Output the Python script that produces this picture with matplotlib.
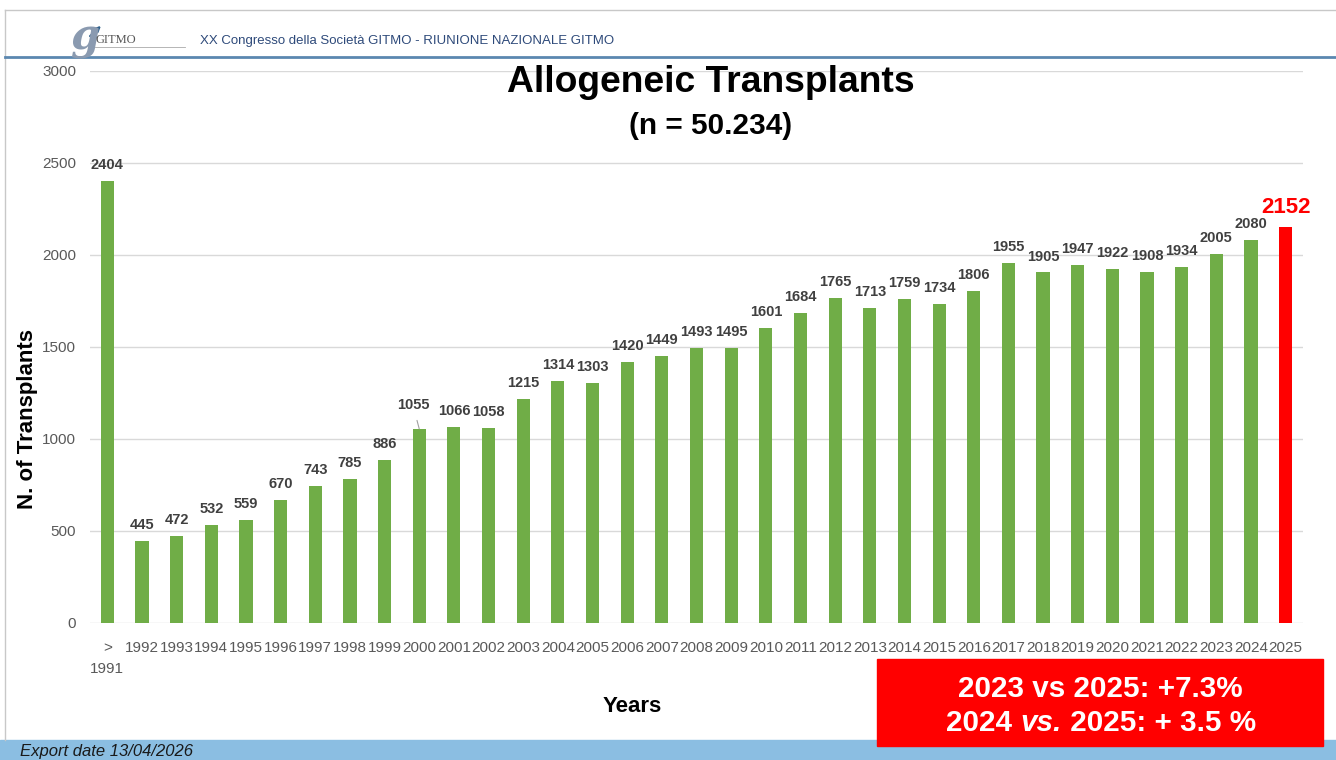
import matplotlib.pyplot as plt
from matplotlib.patches import Rectangle, FancyArrowPatch
from matplotlib.lines import Line2D

plt.rc('font', family=['Liberation Sans', 'DejaVu Sans'])

# data
years = ['>\n1991'] + [str(y) for y in range(1992, 2026)]
transplants = [2404, 445, 472, 532, 559, 670, 743, 785, 886, 1055,
               1066, 1058, 1215, 1314, 1303, 1420, 1449, 1493, 1495, 1601,
               1684, 1765, 1713, 1759, 1734, 1806, 1955, 1905, 1947, 1922,
               1908, 1934, 2005, 2080, 2152]
yticks = [0, 500, 1000, 1500, 2000, 2500, 3000]

green = '#70AD47'
red = '#FF0000'
grey_txt = '#595959'
dark_txt = '#404040'

fig = plt.figure(figsize=(13.36, 7.6), dpi=100)

# slide frame
fig.add_artist(Line2D([5/1336, 1], [1-10/760, 1-10/760], color='#C8C8C8', lw=1))
fig.add_artist(Line2D([5/1336, 5/1336], [1-10/760, 20/760], color='#C8C8C8', lw=1))
fig.add_artist(Line2D([5/1336, 1], [1-57/760, 1-57/760], color='#5B87B0', lw=2))
fig.add_artist(Rectangle((0, 0), 1, 20/760, transform=fig.transFigure, color='#8BBEE2', zorder=0))
fig.text(20/1336, 1/760, 'Export date 13/04/2026', fontsize=12, style='italic',
         color='#1a1a1a', ha='left', va='bottom')

# header
fig.text(70/1336, 1-38/760, 'g', fontsize=30, style='italic', fontweight='bold', color='#8A9AB0',
         ha='left', va='center', family='DejaVu Serif')
fig.add_artist(FancyArrowPatch((88/1336, 1-38/760), (103/1336, 1-24/760), transform=fig.transFigure,
                               arrowstyle='-|>', color='#2E5F8A', lw=1.5, mutation_scale=8))
fig.text(96/1336, 1-40/760, 'GITMO', fontsize=9, color='#555555',
         ha='left', va='center', family='Liberation Serif')
fig.add_artist(Line2D([95/1336, 185/1336], [1-47/760, 1-47/760], color='#AAAAAA', lw=0.6))
fig.text(200/1336, 1-41/760, 'XX Congresso della Società GITMO - RIUNIONE NAZIONALE GITMO',
         fontsize=9.5, color='#2E4A7A', ha='left', va='center')

ax = fig.add_axes([90/1336, 1-623/760, (1303-90)/1336, (623-71)/760])
x = list(range(len(years)))
colors = [green]*(len(years)-1) + [red]
ax.bar(x, transplants, width=0.38, color=colors, zorder=3)

ax.set_xlim(-0.5, len(years)-0.5)
ax.set_ylim(0, 3000)
ax.set_yticks(yticks)
ax.set_xticks(x)
ax.set_xticklabels(years, fontsize=11, color=grey_txt, va='top', linespacing=1.6)
ax.tick_params(axis='y', labelsize=11, labelcolor=grey_txt, length=0, pad=10)
ax.tick_params(axis='x', length=0, pad=13)
ax.grid(axis='y', color='#D9D9D9', lw=1, zorder=0)
for s in ax.spines.values():
    s.set_visible(False)

# value labels
for i, v in enumerate(transplants):
    if i == len(transplants)-1:
        ax.annotate(str(v), (i, v), xytext=(0, 14), textcoords='offset points',
                    ha='center', va='center', fontsize=16, fontweight='bold', color=red)
    elif years[i] == '2000':
        ax.annotate(str(v), (i, v), xytext=(-4.5, 17), textcoords='offset points',
                    ha='center', va='center', fontsize=10.5, fontweight='bold', color=dark_txt,
                    arrowprops=dict(arrowstyle='-', color='#A0A0A0', lw=0.8, shrinkA=4, shrinkB=0))
    else:
        ax.annotate(str(v), (i, v), xytext=(0, 11.5), textcoords='offset points',
                    ha='center', va='center', fontsize=10.5, fontweight='bold', color=dark_txt)

fig.text(28/1336, 1-419/760, 'N. of Transplants', fontsize=16, fontweight='bold',
         rotation=90, ha='center', va='center')
fig.text(632/1336, 1-706/760, 'Years', fontsize=16, fontweight='bold', ha='center', va='center')

fig.text(711/1336, 1-83/760, 'Allogeneic Transplants', fontsize=26.8, fontweight='bold',
         ha='center', va='center')
fig.text(711/1336, 1-126/760, '(n = 50.234)', fontsize=21.4, fontweight='bold',
         ha='center', va='center')

# red comparison box
fig.add_artist(Rectangle((877/1336, 1-746/760), (1323-877)/1336, (746-659)/760,
                         transform=fig.transFigure, color=red, zorder=5))
fig.text(1100/1336, 1-689/760, '2023 vs 2025: +7.3%', fontsize=21.3, fontweight='bold',
         color='white', ha='center', va='center', zorder=6)
box_kw = dict(fontsize=21.3, fontweight='bold', color='white', va='baseline', zorder=6)
t1 = fig.text(946/1336, 1-731/760, '2024 ', ha='left', **box_kw)
t2 = fig.text(0, 0, 'vs.', style='italic', ha='left', **box_kw)
t3 = fig.text(0, 0, ' 2025: + 3.5 %', ha='left', **box_kw)
fig.canvas.draw()
r = fig.canvas.get_renderer()
e1 = t1.get_window_extent(r)
t2.set_position((e1.x1/fig.bbox.width, 1-731/760))
fig.canvas.draw()
e2 = t2.get_window_extent(r)
t3.set_position((e2.x1/fig.bbox.width, 1-731/760))

fig.savefig('out.png', dpi=100)
